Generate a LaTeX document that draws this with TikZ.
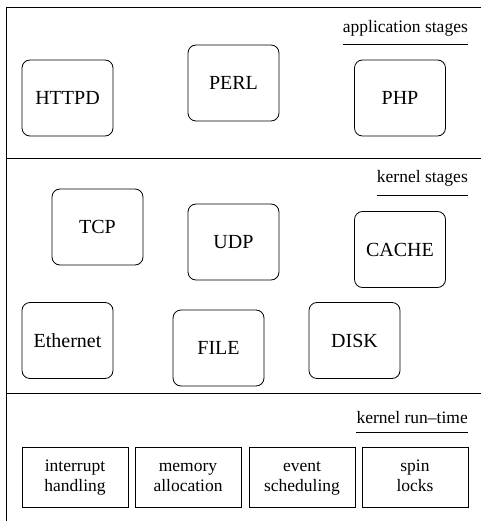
\documentclass[tikz,border=0pt]{standalone}
\usepackage{fontspec}
\setmainfont{Liberation Serif}
\begin{document}
\begin{tikzpicture}[x=1pt,y=-1pt,
  stage/.style={draw, line width=0.8pt, rounded corners=8pt, minimum width=91pt, minimum height=76pt, inner sep=0pt, font=\fontsize{20}{24}\selectfont},
  rtbox/.style={draw, line width=0.8pt, minimum width=106pt, minimum height=60pt, inner sep=0pt, align=center, font=\fontsize{17.5}{20}\selectfont},
  layer/.style={anchor=base east, inner sep=0pt, font=\fontsize{17.5}{20}\selectfont}]
\useasboundingbox (0,0) rectangle (481,521);
\draw [line width=0.8pt] (481,7) -- (6,7) -- (6,521);
\draw [line width=0.8pt] (6,158) -- (481,158);
\draw [line width=0.8pt] (6,393) -- (481,393);
% application stages
\node [layer] (app) at (468,33) {application stages};
\draw [line width=0.8pt] ([yshift=-11pt]app.base west) -- ([yshift=-11pt]app.base east);
\node [stage] (httpd) at (67.5,98) {HTTPD};
\node [stage] (perl) at (233.5,83) {PERL};
\node [stage] (php) at (400,98) {PHP};
% kernel stages
\node [layer] (kern) at (468,183) {kernel stages};
\draw [line width=0.8pt] ([yshift=-12pt]kern.base west) -- ([yshift=-12pt]kern.base east);
\node [stage] (tcp) at (97.5,227) {TCP};
\node [stage] (udp) at (233.5,242) {UDP};
\node [stage] (cache) at (400,249.5) {CACHE};
\node [stage] (eth) at (67.5,340.5) {Ethernet};
\node [stage] (file) at (218.5,348) {FILE};
\node [stage] (disk) at (354.5,340.5) {DISK};
% kernel run-time
\node [layer] (rt) at (468,423) {kernel run--time};
\draw [line width=0.8pt] ([yshift=-9pt]rt.base west) -- ([yshift=-9pt]rt.base east);
\node [rtbox] (intr) at (75,477) {interrupt\strut\\handling\strut};
\node [rtbox] (mem) at (188,477) {memory\strut\\allocation\strut};
\node [rtbox] (event) at (302,477) {event\strut\\scheduling\strut};
\node [rtbox] (spin) at (415,477) {spin\strut\\locks\strut};
\end{tikzpicture}
\end{document}
